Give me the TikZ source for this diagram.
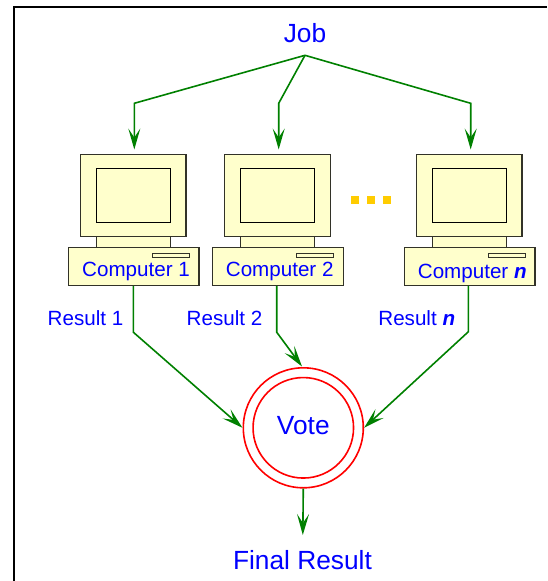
\documentclass[tikz,border=0pt]{standalone}
\usepackage{fontspec}
\setmainfont{Liberation Sans}
\usetikzlibrary{arrows.meta}
\definecolor{scr}{RGB}{255,255,204}
\definecolor{grn}{RGB}{0,128,0}
\definecolor{dots}{RGB}{255,204,0}
\definecolor{edge}{RGB}{50,50,40}
\tikzset{
 x=1pt,y=-1pt,
 lbl/.style={text=blue,inner sep=0pt,font=\fontsize{20.6}{24}\selectfont},
 big/.style={text=blue,inner sep=0pt,font=\fontsize{26.3}{30}\selectfont},
 flow/.style={draw=grn,line width=1.6pt,line join=miter,-{Stealth[length=21pt,width=12pt,inset=9pt]}},
 part/.style={draw=edge,fill=scr,line width=1.1pt},
 vote/.style={draw=red,line width=1.6pt,circle,inner sep=0pt},
}
% name, left x of monitor, label left x, label baseline y, label
\newcommand{\computer}[5]{%
 \draw[part] (#2+16,234) rectangle (#2+90,248);
 \draw[part] (#2,154.7) rectangle (#2+105.7,236.3);
 \draw[part,draw=black,line width=1pt] (#2+16,168.3) rectangle (#2+90,222.3);
 \node[part,minimum width=130.3pt,minimum height=37.7pt,inner sep=0pt,anchor=north west] (#1) at (#2-12.2,247) {};
 \draw[part,line width=.9pt] (#2+72.2,253.4) rectangle (#2+109.2,257.4);
 \node[lbl,anchor=base west] at (#3,#4) {#5};
}
\begin{document}
\begin{tikzpicture}
\useasboundingbox (0,0) rectangle (547,581);
\draw[black,line width=1.7pt] (13.8,581) -- (13.8,6.8) -- (547,6.8);
\node[big,anchor=base] (job) at (305,42) {Job};
\computer{c1}{80.3}{82}{276}{Computer 1}
\computer{c2}{224.4}{225.7}{276}{Computer 2}
\computer{cn}{416.3}{417.7}{278}{Computer \textbf{\textit{n}}}
\foreach \x in {351,367,383} \fill[dots] (\x,196) rectangle +(8,7.8);
\coordinate (top) at (305,55.3);
\coordinate (a1) at (134.3,103.3);
\coordinate (a2) at (278.7,103.3);
\coordinate (a3) at (470.7,103.3);
\coordinate (t1) at (134.3,149.5);
\coordinate (t2) at (278.7,149.5);
\coordinate (t3) at (470.7,149.5);
\draw[flow] (top) -- (a1) -- (t1);
\draw[flow] (top) -- (a2) -- (t2);
\draw[flow] (top) -- (a3) -- (t3);
\node[lbl,anchor=base west] (r1) at (47.5,325) {Result 1};
\node[lbl,anchor=base west] (r2) at (186.5,325) {Result 2};
\node[lbl,anchor=base west] (rn) at (378.2,325.7) {Result \textbf{\textit{n}}};
\node[vote,minimum size=120pt] (vo) at (303.3,427.8) {};
\node[vote,minimum size=100.5pt] (vi) at (303.3,427.8) {};
\node[big,anchor=base] at (303.3,434) {Vote};
\coordinate (b1) at (133.3,332.2);
\coordinate (b2) at (276.7,332.2);
\coordinate (b3) at (468.3,331.8);
\coordinate (v2) at (302,366.5);
\draw[flow] (b1 |- c1.south) -- (b1) -- (vo.west);
\draw[flow] (b2 |- c2.south) -- (b2) -- (v2);
\draw[flow] (b3 |- cn.south) -- (b3) -- (vo.east);
\coordinate (fr) at (302.8,535);
\draw[flow] (vo.south) -- (fr);
\node[big,anchor=base] (final) at (302.5,569.3) {Final Result};
\end{tikzpicture}
\end{document}
